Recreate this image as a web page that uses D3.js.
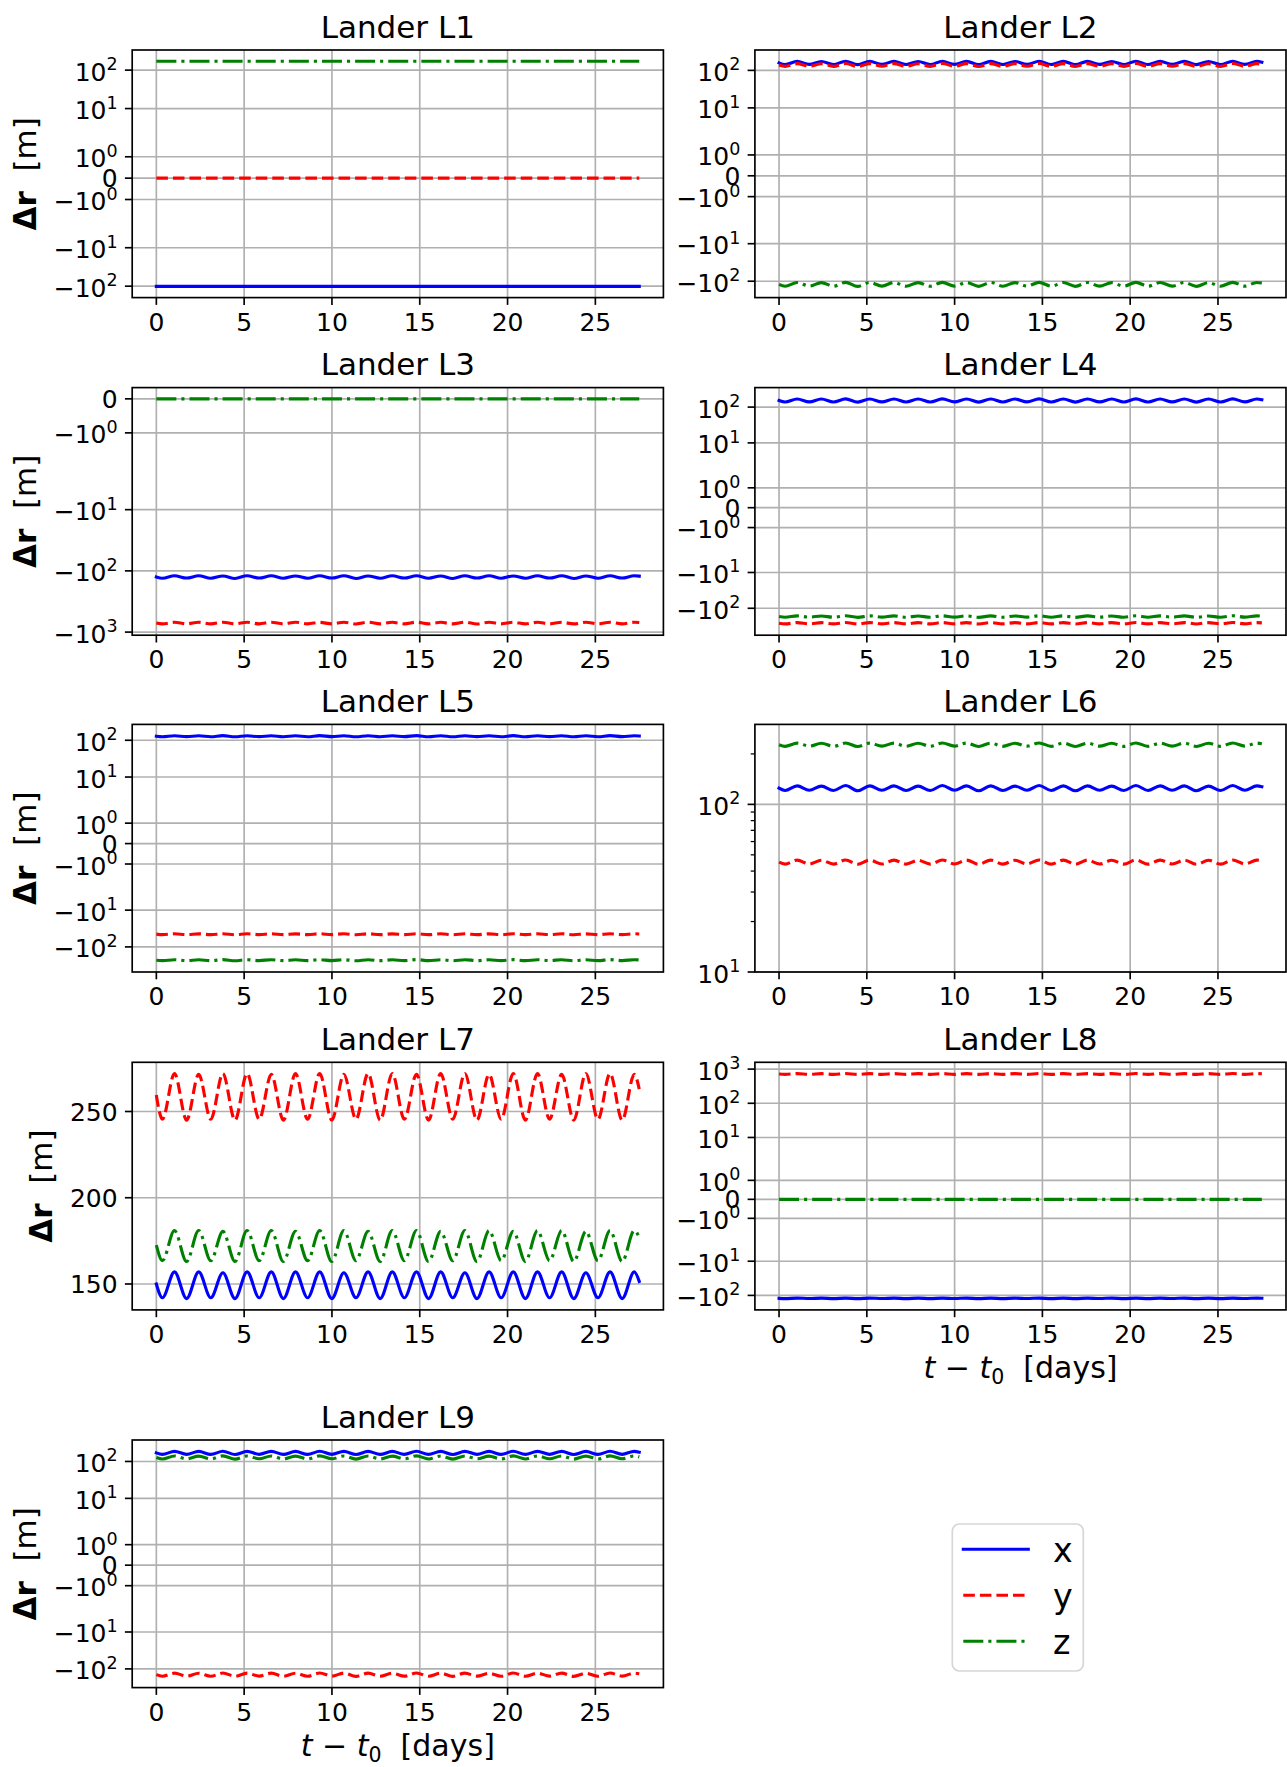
<!DOCTYPE html>
<html><head><meta charset="utf-8">
<script src="https://cdn.jsdelivr.net/npm/d3@7"></script>
<style>
body{margin:0;background:#fff;}
svg{display:block;font-family:"DejaVu Sans",sans-serif;}
</style>
</head><body>
<svg id="chart" width="1287" height="1767"></svg>
<script>
// ---------------- DATA ----------------
// sample times: start, then alternating trough/peak of the oscillation, then end
const tWave = [0,
  0.345, 1.034, 1.723, 2.412, 3.101, 3.79, 4.479, 5.168, 5.857, 6.546,
  7.235, 7.924, 8.613, 9.302, 9.991, 10.68, 11.369, 12.058, 12.747, 13.436,
  14.125, 14.814, 15.503, 16.192, 16.881, 17.57, 18.259, 18.948, 19.637, 20.326,
  21.015, 21.704, 22.393, 23.082, 23.771, 24.46, 25.149, 25.838, 26.527, 27.216,
  27.5];
const tFlat = [0, 27.5];

const seriesNames = ["x", "y", "z"];
const panelTitles = ["Lander L1","Lander L2","Lander L3","Lander L4","Lander L5",
                     "Lander L6","Lander L7","Lander L8","Lander L9"];
const xTicks = [0, 5, 10, 15, 20, 25];
const symTicks = [-100, -10, -1, 0, 1, 10, 100];
const symTicksL3 = [-1000, -100, -10, -1, 0];
const symTicksL8 = [-100, -10, -1, 0, 1, 10, 100, 1000];
const logTicksL6 = [10, 100];
const logMinorL6 = [20, 30, 40, 50, 60, 70, 80, 90, 200];
const logLimitsL6 = [10, 300];
const linTicksL7 = [150, 200, 250];

// Lander L1 (flat)
const L1_x = [-101, -101];
const L1_y = [0, 0];
const L1_z = [170, 170];
// Lander L2
const L2_x = [158,
  143,174, 144,173, 143,175, 142,174, 144,174,
  143,173, 143,175, 144,174, 142,174, 143,173,
  144,175, 143,174, 142,174, 144,173, 143,175,
  143,174, 144,174, 142,173, 143,175, 144,174,
  165];
const L2_y = [139,
  128,151, 129,150, 128,152, 127,151, 129,151,
  128,150, 128,152, 129,151, 127,151, 128,150,
  129,152, 128,151, 127,151, 129,150, 128,152,
  128,151, 129,151, 127,150, 128,152, 129,151,
  146];
const L2_z = [-121,
  -136,-108, -135,-109, -136,-107, -137,-108, -135,-108,
  -136,-109, -136,-107, -135,-108, -137,-108, -136,-109,
  -135,-107, -136,-108, -137,-108, -135,-109, -136,-107,
  -136,-108, -135,-108, -137,-109, -136,-107, -135,-108,
  -112];
// Lander L3
const L3_x = [-126,
  -132,-120, -131,-120, -132,-121, -133,-120, -131,-120,
  -132,-121, -132,-120, -131,-120, -133,-121, -132,-120,
  -131,-120, -132,-121, -133,-120, -131,-120, -132,-121,
  -132,-120, -131,-120, -133,-121, -132,-120, -131,-120,
  -122];
const L3_y = [-712,
  -735,-690, -733,-692, -735,-689, -736,-690, -734,-691,
  -735,-690, -733,-692, -735,-689, -736,-690, -734,-691,
  -735,-690, -733,-692, -735,-689, -736,-690, -734,-691,
  -735,-690, -733,-692, -735,-689, -736,-690, -734,-691,
  -698];
const L3_z = [0, 0];
// Lander L4
const L4_x = [153,
  139,169, 140,168, 139,170, 138,169, 140,169,
  139,168, 139,170, 140,169, 138,169, 139,168,
  140,170, 139,169, 138,169, 140,168, 139,170,
  139,169, 140,169, 138,168, 139,170, 140,169,
  161];
const L4_y = [-262,
  -273,-251, -272,-252, -273,-250, -274,-251, -272,-251,
  -273,-252, -273,-250, -272,-251, -274,-251, -273,-252,
  -272,-250, -273,-251, -274,-251, -272,-252, -273,-250,
  -273,-251, -272,-251, -274,-252, -273,-250, -272,-251,
  -255];
const L4_z = [-170,
  -178,-163, -177,-164, -178,-162, -179,-163, -177,-163,
  -178,-164, -178,-162, -177,-163, -179,-163, -178,-164,
  -177,-162, -178,-163, -179,-163, -177,-164, -178,-162,
  -178,-163, -177,-163, -179,-164, -178,-162, -177,-163,
  -166];
// Lander L5
const L5_x = [129,
  125,133, 125.5,132.5, 125,133.5, 124.5,133, 125.5,133,
  125,132.5, 125,133.5, 125.5,133, 124.5,133, 125,132.5,
  125.5,133.5, 125,133, 124.5,133, 125.5,132.5, 125,133.5,
  125,133, 125.5,133, 124.5,132.5, 125,133.5, 125.5,133,
  131];
const L5_y = [-45,
  -46.5,-44, -46.3,-44.1, -46.5,-43.9, -46.7,-44, -46.3,-44,
  -46.5,-44.1, -46.5,-43.9, -46.3,-44, -46.7,-44, -46.5,-44.1,
  -46.3,-43.9, -46.5,-44, -46.7,-44, -46.3,-44.1, -46.5,-43.9,
  -46.5,-44, -46.3,-44, -46.7,-44.1, -46.5,-43.9, -46.3,-44,
  -44.5];
const L5_z = [-230,
  -237,-223, -236,-224, -237,-222, -238,-223, -236,-223,
  -237,-224, -237,-222, -236,-223, -238,-223, -237,-224,
  -236,-222, -237,-223, -238,-223, -236,-224, -237,-222,
  -237,-223, -236,-223, -238,-224, -237,-222, -236,-223,
  -226];
// Lander L6
const L6_x = [125,
  121,129, 121.5,128.5, 121,129.5, 120.5,129, 121.5,129,
  121,128.5, 121,129.5, 121.5,129, 120.5,129, 121,128.5,
  121.5,129.5, 121,129, 120.5,129, 121.5,128.5, 121,129.5,
  121,129, 121.5,129, 120.5,128.5, 121,129.5, 121.5,129,
  127.5];
const L6_y = [45.2,
  44,46.5, 44.1,46.4, 44,46.6, 43.9,46.5, 44.1,46.5,
  44,46.4, 44,46.6, 44.1,46.5, 43.9,46.5, 44,46.4,
  44.1,46.6, 44,46.5, 43.9,46.5, 44.1,46.4, 44,46.6,
  44,46.5, 44.1,46.5, 43.9,46.4, 44,46.6, 44.1,46.5,
  46];
const L6_z = [227,
  222,232, 222.5,231.5, 222,232.5, 221.5,232, 222.5,232,
  222,231.5, 222,232.5, 222.5,232, 221.5,232, 222,231.5,
  222.5,232.5, 222,232, 221.5,232, 222.5,231.5, 222,232.5,
  222,232, 222.5,232, 221.5,231.5, 222,232.5, 222.5,232,
  230];
// Lander L7 (linear axis)
const L7_x = [150,
  142,157, 141.5,157, 142,156.5, 141.5,157, 142,157,
  141.5,157, 142,157, 141.5,156.5, 142,157, 141.5,157,
  142,157, 141.5,157, 142,156.5, 141.5,157, 142,157,
  141.5,157, 142,157, 141.5,156.5, 142,157, 141.5,157,
  151.5];
const L7_y = [259.5,
  245.5,272, 245,271.5, 245.5,272, 245,272, 245.5,271.5,
  245,272, 245.5,272, 245,271.5, 245.5,272, 245,272,
  245.5,271.5, 245,272, 245.5,272, 245,271.5, 245.5,272,
  245,272, 245.5,271.5, 245,272, 245.5,272, 245,271.5,
  263];
const L7_z = [172.5,
  163.5,181, 163,181, 163.5,180.5, 163,181, 163.5,181,
  163,180.5, 163.5,181, 163,181, 163.5,180.5, 163,181,
  163.5,181, 163,180.5, 163.5,181, 163,181, 163.5,180.5,
  163,181, 163.5,181, 163,180.5, 163.5,181, 163,181,
  177];
// Lander L8
const L8_x = [-122,
  -124,-120, -123.5,-120.5, -124,-120, -124.5,-120, -123.5,-120.5,
  -124,-120, -124,-120.5, -123.5,-120, -124.5,-120, -124,-120.5,
  -123.5,-120, -124,-120, -124.5,-120.5, -123.5,-120, -124,-120,
  -124,-120.5, -123.5,-120, -124.5,-120, -124,-120.5, -123.5,-120,
  -121];
const L8_y = [720,
  700,740, 702,738, 700,741, 699,740, 702,739,
  700,738, 700,741, 702,740, 699,740, 700,738,
  702,741, 700,740, 699,739, 702,738, 700,741,
  700,740, 702,739, 699,738, 700,741, 702,740,
  728];
const L8_z = [0, 0];
// Lander L9
const L9_x = [171,
  155,188, 156,187, 155,189, 154,188, 156,188,
  155,187, 155,189, 156,188, 154,188, 155,187,
  156,189, 155,188, 154,188, 156,187, 155,189,
  155,188, 156,188, 154,187, 155,189, 156,188,
  178];
const L9_y = [-143,
  -158,-130, -157,-131, -158,-129, -159,-130, -157,-130,
  -158,-131, -158,-129, -157,-130, -159,-130, -158,-131,
  -157,-129, -158,-130, -159,-130, -157,-131, -158,-129,
  -158,-130, -157,-130, -159,-131, -158,-129, -157,-130,
  -135];
const L9_z = [128,
  117,141, 118,140, 117,142, 116,141, 118,141,
  117,140, 117,142, 118,141, 116,141, 117,140,
  118,142, 117,141, 116,141, 118,140, 117,142,
  117,141, 118,141, 116,140, 117,142, 118,141,
  133];

// ---------------- PANEL TABLE ----------------
function S(t, x, y, z){ return [{name:"x", t:t[0], v:x}, {name:"y", t:t[1], v:y}, {name:"z", t:t[2], v:z}]; }
const panels = [
  {scale:"symlog", ticks:symTicks,   series:S([tFlat,tFlat,tFlat], L1_x, L1_y, L1_z)},
  {scale:"symlog", ticks:symTicks,   series:S([tWave,tWave,tWave], L2_x, L2_y, L2_z)},
  {scale:"symlog", ticks:symTicksL3, series:S([tWave,tWave,tFlat], L3_x, L3_y, L3_z)},
  {scale:"symlog", ticks:symTicks,   series:S([tWave,tWave,tWave], L4_x, L4_y, L4_z)},
  {scale:"symlog", ticks:symTicks,   series:S([tWave,tWave,tWave], L5_x, L5_y, L5_z)},
  {scale:"log", ticks:logTicksL6, minor:logMinorL6, limits:logLimitsL6, series:S([tWave,tWave,tWave], L6_x, L6_y, L6_z)},
  {scale:"linear", ticks:linTicksL7, series:S([tWave,tWave,tWave], L7_x, L7_y, L7_z)},
  {scale:"symlog", ticks:symTicksL8, series:S([tWave,tWave,tFlat], L8_x, L8_y, L8_z)},
  {scale:"symlog", ticks:symTicks,   series:S([tWave,tWave,tWave], L9_x, L9_y, L9_z)}
];
panels.forEach((p,i)=>{ p.title = panelTitles[i]; });

// ---------------- STYLE / LAYOUT ----------------
const PT = 150/72;
const LW = 1.5*PT;
const styles = {
  x: {color:"#0000ff", dash:null, cap:"square"},
  y: {color:"#ff0000", dash:[3.7*LW, 1.6*LW], cap:"butt"},
  z: {color:"#008000", dash:[6.4*LW, 1.6*LW, 1*LW, 1.6*LW], cap:"butt"}
};
const colX = [[132.2, 663.4], [754.9, 1286.0]];
const rowTop = [50, 387.6, 724.4, 1062.3, 1440];
const axH = 247.6;
const xDomain = [-1.375, 28.875];
const tickLen = 3.5*PT, tickPad = 3.5*PT, spineW = 0.8*PT;
const tickFont = 25, supFont = 17.5, titleFont = 31, labelFont = 31, xLabelFont = 30, legendFont = 33.3;

const ADJ = 1/(1-1/10); // symlog linscale adjust, linthresh = 2
function symlogT(v){
  const a = Math.abs(v);
  return a <= 2 ? v*ADJ : Math.sign(v)*2*(ADJ + Math.log10(a/2));
}

const svg = d3.select("#chart");
svg.append("rect").attr("width",1287).attr("height",1767).attr("fill","#fff");

panels.forEach((p, i) => {
  const c = i % 2, r = Math.floor(i/2);
  const [x0, x1] = colX[c];
  const y0 = rowTop[r], y1 = y0 + axH;
  const g = svg.append("g");
  const x = d3.scaleLinear().domain(xDomain).range([x0, x1]);
  const allV = p.series.flatMap(s => s.v);
  let y;
  if (p.scale === "symlog") {
    const T = allV.map(symlogT);
    const lo = d3.min(T), hi = d3.max(T), m = (hi-lo)*0.05;
    const yl = d3.scaleLinear().domain([lo-m, hi+m]).range([y1, y0]);
    y = v => yl(symlogT(v));
  } else if (p.scale === "log") {
    y = d3.scaleLog().domain(p.limits).range([y1, y0]);
  } else {
    const lo = d3.min(allV), hi = d3.max(allV), m = (hi-lo)*0.05;
    y = d3.scaleLinear().domain([lo-m, hi+m]).range([y1, y0]);
  }

  // grid
  const grid = g.append("g").attr("stroke","#b0b0b0").attr("stroke-width",0.8*PT);
  xTicks.forEach(t => grid.append("line").attr("x1",x(t)).attr("x2",x(t)).attr("y1",y0).attr("y2",y1));
  p.ticks.forEach(v => grid.append("line").attr("x1",x0).attr("x2",x1).attr("y1",y(v)).attr("y2",y(v)));

  // data lines
  const clipId = "clip"+i;
  g.append("clipPath").attr("id",clipId).append("rect")
    .attr("x",x0).attr("y",y0).attr("width",x1-x0).attr("height",y1-y0);
  const lg = g.append("g").attr("clip-path",`url(#${clipId})`);
  p.series.forEach(s => {
    const st = styles[s.name];
    const pts = s.t.map((t,k) => [t, s.v[k]]);
    const line = d3.line().x(d => x(d[0])).y(d => y(d[1]))
      .curve(s.t.length > 2 ? d3.curveMonotoneX : d3.curveLinear);
    lg.append("path").attr("d", line(pts)).attr("fill","none")
      .attr("stroke", st.color).attr("stroke-width", LW)
      .attr("stroke-linecap", st.cap).attr("stroke-linejoin","round")
      .attr("stroke-dasharray", st.dash ? st.dash.join(",") : null);
  });

  // spines
  g.append("rect").attr("x",x0).attr("y",y0).attr("width",x1-x0).attr("height",y1-y0)
    .attr("fill","none").attr("stroke","#000").attr("stroke-width",spineW);

  // x ticks
  const xt = g.append("g");
  xTicks.forEach(t => {
    xt.append("line").attr("x1",x(t)).attr("x2",x(t)).attr("y1",y1).attr("y2",y1+tickLen)
      .attr("stroke","#000").attr("stroke-width",spineW);
    xt.append("text").attr("x",x(t)).attr("y",y1+tickLen+tickPad+18.6)
      .attr("text-anchor","middle").attr("font-size",tickFont).text(t);
  });

  // y ticks
  const yt = g.append("g");
  const labG = g.append("g");
  p.ticks.forEach(v => {
    const py = y(v);
    yt.append("line").attr("x1",x0-tickLen).attr("x2",x0).attr("y1",py).attr("y2",py)
      .attr("stroke","#000").attr("stroke-width",spineW);
    const tx = labG.append("text").attr("x",x0-tickLen-tickPad).attr("text-anchor","end")
      .attr("font-size",tickFont);
    if (p.scale === "linear" || v === 0) {
      tx.attr("y", py+9.1).text(v);
    } else {
      const e = Math.round(Math.log10(Math.abs(v)));
      tx.attr("y", py+10.5);
      tx.append("tspan").text((v<0 ? "\u2212" : "") + "10");
      tx.append("tspan").attr("dy",-10.5).attr("font-size",supFont).text(e);
    }
  });
  if (p.minor) {
    p.minor.forEach(v => {
      if (v < p.limits[0] || v > p.limits[1]) return;
      yt.append("line").attr("x1",x0-2*PT).attr("x2",x0).attr("y1",y(v)).attr("y2",y(v))
        .attr("stroke","#000").attr("stroke-width",0.6*PT);
    });
  }

  // title
  g.append("text").attr("x",(x0+x1)/2).attr("y",y0-6*PT).attr("text-anchor","middle")
    .attr("font-size",titleFont).text(p.title);

  // y label (left column)
  if (c === 0) {
    const bb = labG.node().getBBox();
    const lx = bb.x - 18, ly = (y0+y1)/2;
    const yl = g.append("text").attr("transform",`translate(${lx},${ly}) rotate(-90)`)
      .attr("text-anchor","middle").attr("font-size",labelFont);
    yl.append("tspan").attr("font-weight","bold").text("\u0394r");
    yl.append("tspan").text("\u00a0\u00a0[m]");
  }
  // x label (bottom panels)
  if (i === 7 || i === 8) {
    const xl = g.append("text").attr("x",(x0+x1)/2).attr("y",y1+68)
      .attr("text-anchor","middle").attr("font-size",xLabelFont);
    xl.append("tspan").attr("font-style","italic").text("t");
    xl.append("tspan").text("\u00a0\u2212\u00a0");
    xl.append("tspan").attr("font-style","italic").text("t");
    xl.append("tspan").attr("dy",6).attr("font-size",20.5).text("0");
    xl.append("tspan").attr("dy",-6).text("\u00a0\u00a0[days]");
  }
});

// ---------------- LEGEND ----------------
const leg = svg.append("g");
leg.append("rect").attr("x",952.3).attr("y",1524).attr("width",131).attr("height",147)
  .attr("rx",7).attr("fill","#fff").attr("stroke","#d6d6d6").attr("stroke-width",0.8*PT);
seriesNames.forEach((n, k) => {
  const st = styles[n];
  const ly = 1549.3 + k*46;
  leg.append("line").attr("x1",963.3).attr("x2",1028.3).attr("y1",ly).attr("y2",ly)
    .attr("stroke",st.color).attr("stroke-width",LW).attr("stroke-linecap",st.cap)
    .attr("stroke-dasharray", st.dash ? st.dash.join(",") : null);
  leg.append("text").attr("x",1053).attr("y",ly+12.4).attr("font-size",legendFont).text(n);
});
</script>
</body></html>
